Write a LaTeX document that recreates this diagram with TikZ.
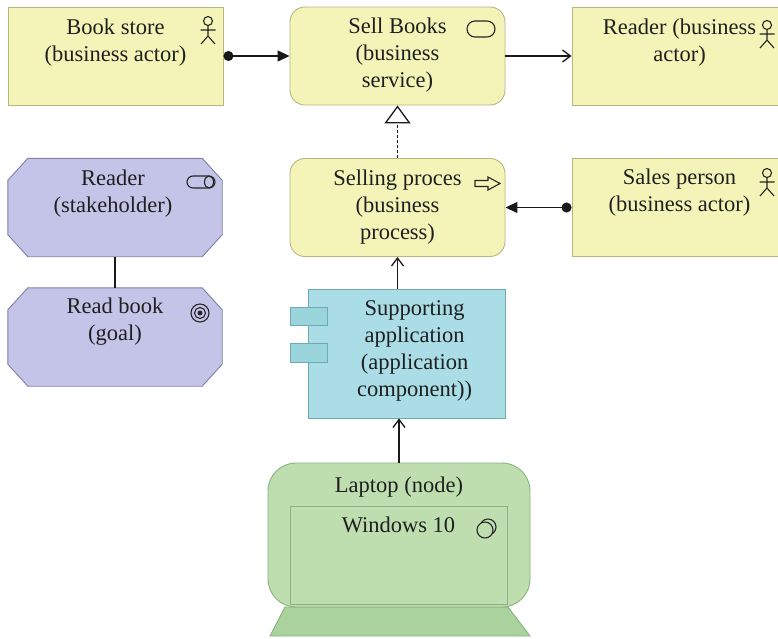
\documentclass[tikz,border=0pt]{standalone}
\usepackage{fontspec}
\setmainfont{Liberation Serif}
\usetikzlibrary{arrows.meta}

% layer colours
\definecolor{busfill}{RGB}{245,244,184}
\definecolor{busline}{RGB}{184,181,128}
\definecolor{motfill}{RGB}{196,196,232}
\definecolor{motline}{RGB}{128,128,168}
\definecolor{appfill}{RGB}{170,221,230}
\definecolor{appline}{RGB}{112,168,180}
\definecolor{apptab}{RGB}{154,213,220}
\definecolor{techfill}{RGB}{190,222,176}
\definecolor{techline}{RGB}{138,178,128}
\definecolor{techbase}{RGB}{170,210,156}

% octagonal outline of a motivation element, cut 20pt x 22pt at each corner
\newcommand\motoutline[1]{%
  \filldraw[elem=mot]
    ([xshift=20pt]#1.north west) -- ([xshift=-20pt]#1.north east)
    -- ([yshift=-22pt]#1.north east) -- ([yshift=22pt]#1.south east)
    -- ([xshift=-20pt]#1.south east) -- ([xshift=20pt]#1.south west)
    -- ([yshift=22pt]#1.south west) -- ([yshift=-22pt]#1.north west) -- cycle;}

\tikzset{
  elem/.style={draw=#1line, fill=#1fill, line width=0.9pt, inner sep=0pt},
  busbox/.style={elem=bus, rectangle, minimum width=215pt, minimum height=98pt},
  busround/.style={busbox, rounded corners=15pt},
  motbox/.style={rectangle, inner sep=0pt, minimum width=214pt, minimum height=98pt},
  % strut on the first line, so north sits 0.7\baselineskip above its baseline
  caption/.style={align=center, anchor=north, inner sep=0pt,
    font=\fontsize{22.5}{27}\selectfont, text=black!88,
    execute at begin node=\strut},
  connector/.style={line width=1.3pt, black!90},
  assign/.style={connector, {Circle[length=10pt]}-{Triangle[length=12pt,width=11pt]}},
  serve/.style={connector, -{Straight Barb[length=8pt,width=12pt]}},
  realize/.style={connector, dash pattern=on 3pt off 2pt,
    -{Triangle[open,length=18pt,width=26pt,fill=white]}},
  iconline/.style={line width=1.1pt, black!85},
  % element icons
  actor/.pic={
    \draw[iconline] (0,0) circle (4.5);
    \draw[iconline] (0,4.5) -- (0,15) (-7.5,9) -- (7.5,9)
      (-7,23) -- (0,15) -- (7,23);
  },
  service/.pic={
    \draw[iconline, rounded corners=8pt] (-14,-8) rectangle (14,8);
  },
  procarrow/.pic={
    \draw[iconline] (0,-3) -- (13,-3) -- (13,-6.5) -- (25,0) -- (13,6.5)
      -- (13,3) -- (0,3) -- cycle;
  },
  stake/.pic={
    \draw[iconline, rounded corners=6pt] (-14,-6) rectangle (14,6);
    \draw[iconline] (8,0) ellipse (4.5 and 6);
  },
  goal/.pic={
    \draw[iconline] (0,0) circle (9) (0,0) circle (5.5);
    \fill[black!85] (0,0) circle (2.5);
  },
  syssoft/.pic={
    \draw[iconline] (3,-3) circle (8);
    \draw[iconline, fill=techfill] (0,0) circle (8);
  },
}

\begin{document}
\begin{tikzpicture}[x=1pt,y=-1pt]
\clip (0,0) rectangle (778,638);
\fill[white] (0,0) rectangle (778,638);

% business layer
\node[busbox] (bookstore) at (115.5,56) {};
\node[busround] (sellbooks) at (397.5,56) {};
\node[busbox] (readeractor) at (679.5,56) {};
\node[busround] (selling) at (397.5,207.5) {};
\node[busbox] (salesperson) at (679.5,207.5) {};

\node[caption] (bookstoretxt) at ([yshift=-12pt]bookstore.north) {Book store\\(business actor)};
\node[caption] (sellbookstxt) at ([yshift=-11pt]sellbooks.north) {Sell Books\\(business\\service)};
\node[caption] (readeractortxt) at ([yshift=-12pt]readeractor.north) {Reader (business\\actor)};
\node[caption] (sellingtxt) at ([yshift=-12pt]selling.north) {Selling proces\\(business\\process)};
\node[caption] (salespersontxt) at ([yshift=-11pt]salesperson.north) {Sales person\\(business actor)};

\pic at (208,21) {actor};
\pic at (767,25) {actor};
\pic at (767,173) {actor};
\pic at (481,29) {service};
\pic at (475,183.5) {procarrow};

% motivation
\node[motbox] (stakeholder) at (115,207.5) {};
\node[motbox] (readbook) at (115,337) {};
\motoutline{stakeholder}
\motoutline{readbook}
\node[caption] (stakeholdertxt) at ([xshift=-2pt,yshift=-11pt]stakeholder.north) {Reader\\(stakeholder)};
\node[caption] (readbooktxt) at ([yshift=-10pt]readbook.north) {Read book\\(goal)};
\pic at (201,182) {stake};
\pic at (200,313) {goal};

% application component
\node[elem=app, minimum width=197pt, minimum height=129pt] (supportapp) at (406.5,353.5) {};
\node[elem=app, fill=apptab, minimum width=37pt, minimum height=18pt] (tabtop) at (308.5,316) {};
\node[elem=app, fill=apptab, minimum width=37pt, minimum height=19pt] (tabbot) at (308.5,352.5) {};
\node[caption] (supportapptxt) at ([xshift=8pt,yshift=-12pt]supportapp.north)
  {Supporting\\application\\(application\\component))};

% technology node
\fill[techbase] (285,607) -- (508,607) -- (530,636) -- (270,636) -- cycle;
\draw[techline, line width=0.9pt] (285,607) -- (508,607) -- (530,636) -- (270,636) -- cycle;
\node[elem=tech, rounded corners=28pt, minimum width=262pt, minimum height=144pt] (laptop) at (399,535) {};
\node[elem=tech, minimum width=217pt, minimum height=98pt] (winsw) at (398.5,555) {};
\node[caption] (laptoptxt) at ([yshift=-11pt]laptop.north) {Laptop (node)};
\node[caption] (winswtxt) at ([yshift=-8pt]winsw.north) {Windows 10};
\pic at (485,530) {syssoft};

% relations
\draw[assign] (bookstore) -- (sellbooks);
\draw[serve] (sellbooks) -- (readeractor);
\draw[realize] (selling) -- (sellbooks);
\draw[assign] (salesperson) -- (selling);
\draw[serve] (selling.south |- supportapp.north) -- (selling.south);
\draw[serve] (laptop.north) -- (laptop.north |- supportapp.south);
\draw[connector] (stakeholder) -- (readbook);
\end{tikzpicture}
\end{document}
